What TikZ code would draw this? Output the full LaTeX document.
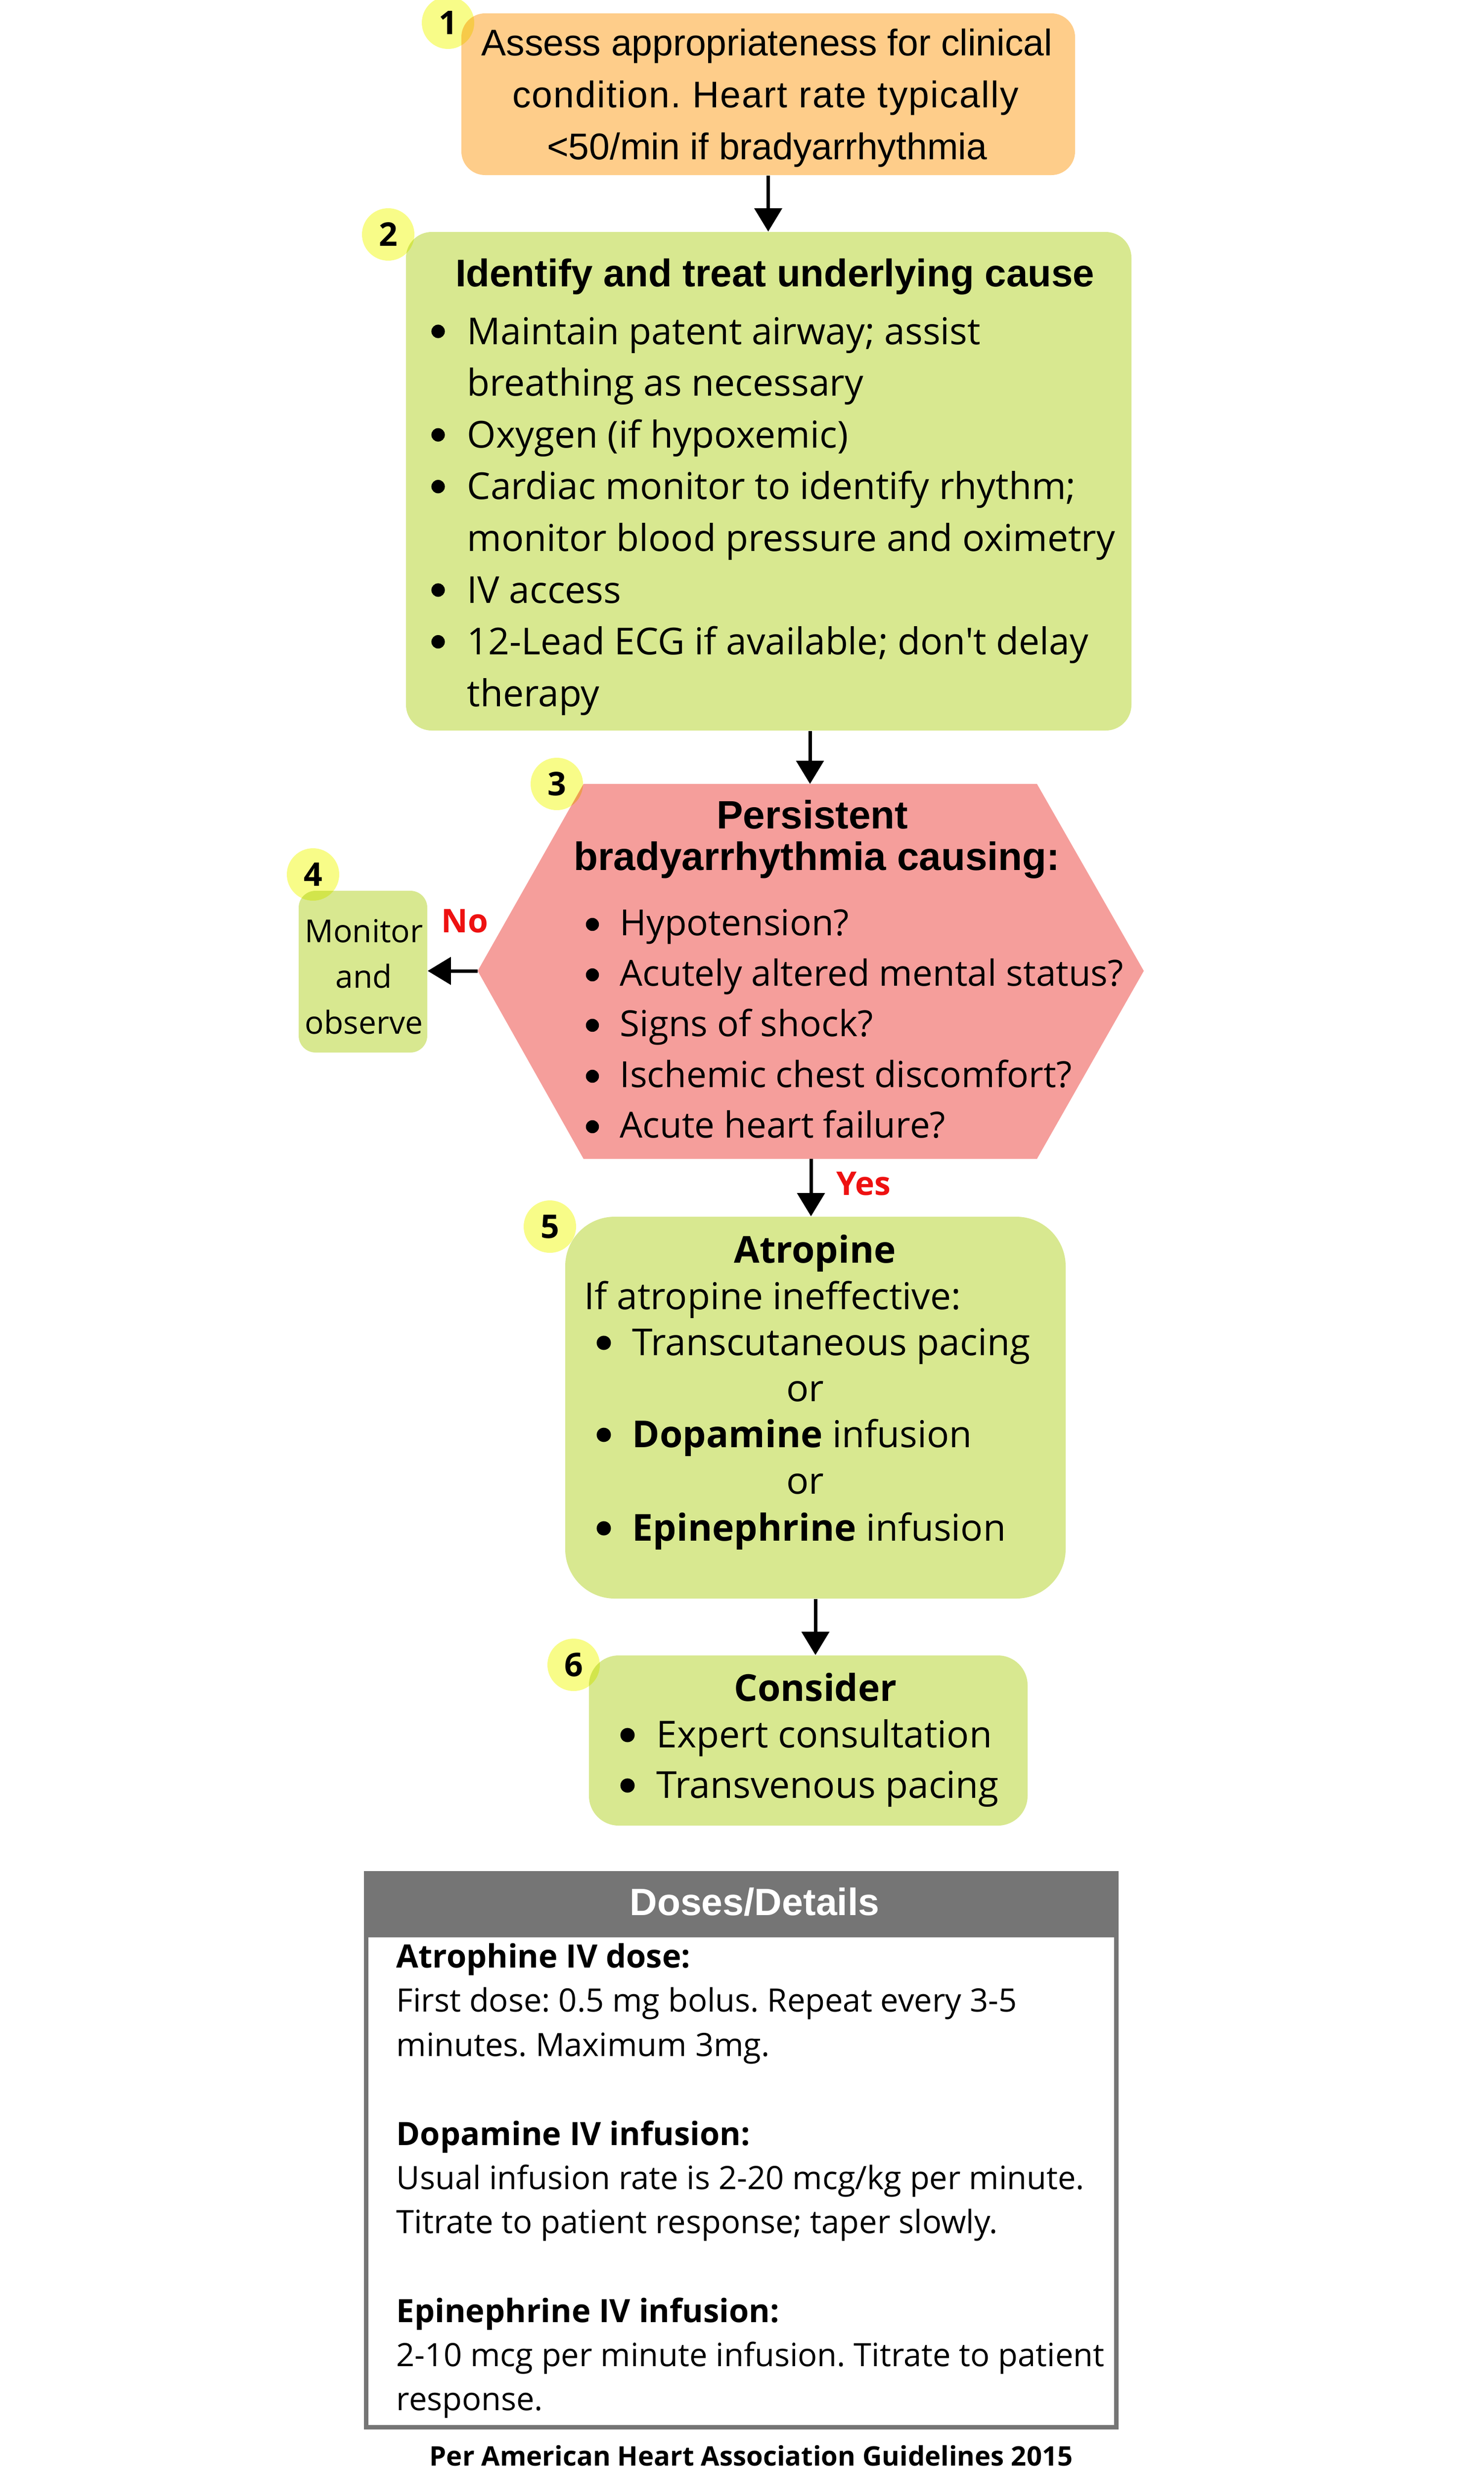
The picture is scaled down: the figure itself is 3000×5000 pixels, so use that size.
\documentclass[tikz,border=0pt]{standalone}
\usepackage{fontspec}
\setmainfont{Open Sans}[Ligatures=TeXOff]
\newfontfamily\arialf{Liberation Sans}
\newfontfamily\arialwide{Liberation Sans}[LetterSpace=3.0]
\usetikzlibrary{fit,arrows.meta}
\definecolor{boxorange}{HTML}{FECD8A}
\definecolor{boxgreen}{HTML}{D8E890}
\definecolor{hexpink}{HTML}{F59E9B}
\definecolor{badgeyellow}{HTML}{F8FC88}
\definecolor{hdrgray}{HTML}{757575}
\definecolor{lblred}{HTML}{EE1111}
\frenchspacing
\begin{document}
\begin{tikzpicture}[x=0.25pt,y=-0.25pt,
  shapebox/.style={inner sep=0pt, fill=boxgreen},
  flow/.style={line width=1.75pt, -{Triangle[length=11.75pt,width=13.75pt]}},
  badge/.style={circle, fill=badgeyellow, minimum size=26.5pt, inner sep=0pt, font=\fontsize{16.5}{18}\selectfont\bfseries},
  ln/.style={inner sep=0pt, anchor=base west, font=\fontsize{18.75}{22}\selectfont},
  lnc/.style={inner sep=0pt, anchor=base, font=\fontsize{18.75}{22}\selectfont},
  hexln/.style={inner sep=0pt, anchor=base west, font=\fontsize{18.2}{22}\selectfont},
  boxone/.style={inner sep=0pt, anchor=base, font=\fontsize{18.75}{22}\arialf\selectfont},
  atitle/.style={inner sep=0pt, anchor=base, font=\fontsize{19.5}{22}\arialf\bfseries\selectfont},
  otitle/.style={inner sep=0pt, anchor=base, font=\fontsize{18.75}{22}\selectfont\bfseries},
  monln/.style={inner sep=0pt, anchor=base, font=\fontsize{16}{18}\selectfont},
  yesno/.style={inner sep=0pt, anchor=base, text=lblred, font=\fontsize{16.5}{18}\selectfont\bfseries},
  doseln/.style={inner sep=0pt, anchor=base west, font=\fontsize{16.25}{19}\selectfont},
  doseh/.style={inner sep=0pt, anchor=base west, font=\fontsize{16.25}{19}\selectfont\bfseries},
  dot/.style={fill=black}
]
\useasboundingbox (0,0) rectangle (3000,5000);

% ---------- shapes ----------
\node[shapebox, fill=boxorange, rounded corners=12pt, fit={(933,27)(2174,354)}] (b1) {};
\node[shapebox, rounded corners=13pt, fit={(821,469)(2288,1477)}] (b2) {};
\fill[hexpink] (1180,1585) -- (2097,1585) -- (2313,1963) -- (2097,2343) -- (1180,2343) -- (966,1963) -- cycle;
\coordinate (h3top) at (1638,1585);
\coordinate (h3left) at (966,1963);
\coordinate (h3bot) at (1640,2343);
\node[shapebox, rounded corners=8.5pt, fit={(604,1801)(864,2128)}] (b4) {};
\node[shapebox, rounded corners=25pt, fit={(1143,2460)(2155,3232)}] (b5) {};
\node[shapebox, rounded corners=15pt, fit={(1191,3347)(2078,3691)}] (b6) {};

% doses box
\fill[hdrgray] (736,3783) rectangle (2262,3917);
\node[inner sep=0pt, draw=hdrgray, line width=2.25pt, fit={(740.5,3787.5)(2257.5,4907.5)}] (doses) {};

% ---------- badges ----------
\begin{scope}[blend mode=multiply]
\node[badge] (n1) at (906,46) {1};
\node[badge] (n2) at (785,474) {2};
\node[badge] (n3) at (1126,1585) {3};
\node[badge] (n4) at (633,1768) {4};
\node[badge] (n5) at (1112,2480) {5};
\node[badge] (n6) at (1160,3366) {6};
\end{scope}

% ---------- connectors ----------
\draw[flow] (b1.south) -- (b1.south |- b2.north);
\draw[flow] (b2.south -| h3top) -- (h3top);
\draw[flow] (h3left) -- (h3left -| b4.east);
\draw[flow] (h3bot) -- (h3bot |- b5.north);
\draw[flow] (b5.south) -- (b5.south |- b6.north);
\node[yesno] (no) at (940,1885) {No};
\node[yesno] (yes) at (1746,2416) {Yes};

% ---------- box 1 ----------
\node[boxone] (t1a) at (1551,112) {Assess appropriateness for clinical};
\node[boxone, font=\fontsize{18.75}{22}\arialwide\selectfont] (t1b) at (1548,217) {condition. Heart rate typically};
\node[boxone] (t1c) at (1551,322) {<50/min if bradyarrhythmia};

% ---------- box 2 ----------
\node[atitle] (t2h) at (1567,579) {Identify and treat underlying cause};
\node[ln] (t2a) at (944,696) {Maintain patent airway; assist};
\node[ln] (t2b) at (944,800.6) {breathing as necessary};
\node[ln] (t2c) at (944,905.2) {Oxygen (if hypoxemic)};
\node[ln] (t2d) at (944,1009.8) {Cardiac monitor to identify rhythm;};
\node[ln] (t2e) at (944,1114.4) {monitor blood pressure and oximetry};
\node[ln] (t2f) at (944,1219) {IV access};
\node[ln] (t2g) at (944,1323.6) {12-Lead ECG if available; don't delay};
\node[ln] (t2i) at (944,1428.2) {therapy};
\foreach \yy in {696,905.2,1009.8,1219,1323.6}
  \fill[dot] (886,\yy-26) circle[radius=3.4pt];

% ---------- hexagon text ----------
\node[atitle, font=\fontsize{20}{22}\arialf\bfseries\selectfont] (t3h1) at (1643,1675) {Persistent};
\node[atitle, font=\fontsize{20}{22}\arialf\bfseries\selectfont] (t3h2) at (1652,1759) {bradyarrhythmia causing:};
\node[hexln] (t3a) at (1253,1891) {Hypotension?};
\node[hexln] (t3b) at (1253,1993) {Acutely altered mental status?};
\node[hexln] (t3c) at (1253,2095) {Signs of shock?};
\node[hexln] (t3d) at (1253,2198) {Ischemic chest discomfort?};
\node[hexln] (t3e) at (1253,2300) {Acute heart failure?};
\foreach \yy in {1891,1993,2095,2198,2300}
  \fill[dot] (1198,\yy-22) circle[radius=3.3pt];

% ---------- box 4 ----------
\node[monln] (t4a) at (736,1905) {Monitor};
\node[monln] (t4b) at (736,1997) {and};
\node[monln] (t4c) at (736,2090) {observe};

% ---------- box 5 ----------
\node[otitle] (t5h) at (1648,2553) {Atropine};
\node[ln] (t5a) at (1181,2647) {If atropine ineffective:};
\node[ln] (t5b) at (1278,2740) {Transcutaneous pacing};
\node[lnc] (t5c) at (1628,2833) {or};
\node[ln] (t5d) at (1278,2926) {\textbf{Dopamine} infusion};
\node[lnc] (t5e) at (1628,3020) {or};
\node[ln] (t5f) at (1278,3115) {\textbf{Epinephrine} infusion};
\foreach \yy in {2740,2926,3115}
  \fill[dot] (1221,\yy-25) circle[radius=3.6pt];

% ---------- box 6 ----------
\node[otitle] (t6h) at (1649,3439) {Consider};
\node[ln] (t6a) at (1327,3533) {Expert consultation};
\node[ln] (t6b) at (1327,3635) {Transvenous pacing};
\foreach \yy in {3533,3635}
  \fill[dot] (1269,\yy-25) circle[radius=3.6pt];

% ---------- doses ----------
\node[inner sep=0pt, anchor=base, text=white, font=\fontsize{19.25}{22}\arialf\bfseries\selectfont] (dh) at (1526,3872) {Doses/Details};
\node[doseh] (d1) at (801,3978) {Atrophine IV dose:};
\node[doseln] (d2) at (801,4067) {First dose: 0.5 mg bolus. Repeat every 3-5};
\node[doseln] (d3) at (801,4157) {minutes. Maximum 3mg.};
\node[doseh] (d4) at (801,4337) {Dopamine IV infusion:};
\node[doseln] (d5) at (801,4426) {Usual infusion rate is 2-20 mcg/kg per minute.};
\node[doseln] (d6) at (801,4515) {Titrate to patient response; taper slowly.};
\node[doseh] (d7) at (801,4695) {Epinephrine IV infusion:};
\node[doseln] (d8) at (801,4784) {2-10 mcg per minute infusion. Titrate to patient};
\node[doseln] (d9) at (801,4873) {response.};
\node[inner sep=0pt, anchor=base, font=\fontsize{13.6}{16}\selectfont\bfseries] (foot) at (1519,4985) {Per American Heart Association Guidelines 2015};
\end{tikzpicture}
\end{document}
